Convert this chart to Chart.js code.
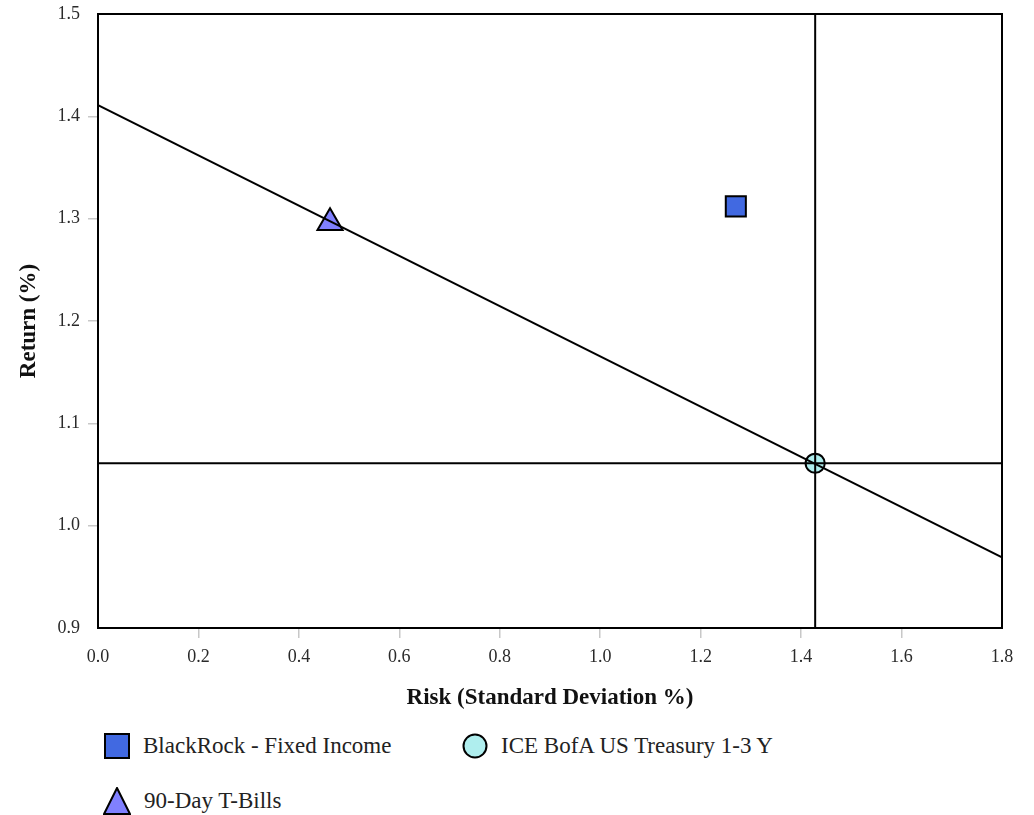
<!DOCTYPE html>
<html>
<head>
<meta charset="utf-8">
<title>Risk / Return</title>
<script src="https://cdn.jsdelivr.net/npm/chart.js@4.4.0/dist/chart.umd.min.js"></script>
<style>
  body { margin: 0; background: #fff; }
  #wrap { position: relative; width: 1034px; height: 815px; font-family: "Liberation Serif", "Times New Roman", serif; }
  #chart { position: absolute; left: 0; top: 0; }
  .item { position: absolute; height: 28px; display: flex; align-items: center; font-size: 23px; color: #222; white-space: nowrap; }
  .item svg { margin-right: 13px; }
</style>
</head>
<body>
<div id="wrap">
  <canvas id="chart" width="1034" height="713"></canvas>
  <div id="legend"></div>
</div>
<script>
// series (risk = std dev %, return %)
const seriesNames = ['BlackRock - Fixed Income', 'ICE BofA US Treasury 1-3 Y', '90-Day T-Bills'];
const riskValues = [1.270, 1.428, 0.462];
const returnValues = [1.312, 1.061, 1.296];

// capital market line end points
const cmlRisk = [0.0, 1.8];
const cmlReturn = [1.411, 0.969];

// axis ranges
const xRange = [0.0, 1.8];
const xStep = 0.2;
const yRange = [0.9, 1.5];
const yStep = 0.1;

const pointStyles = ['rect', 'circle', 'triangle'];
const pointColors = ['#4169e1', '#afeeee', '#8080ff'];
const pointSizes = [14.2, 9.6, 14.5];

const benchIdx = 1; // crosshair drawn at the benchmark

const FONT = '"Liberation Serif", "Times New Roman", serif';

// hide the tick marks at both ends of an axis
function tickColor(ctx) {
  const n = ctx.scale.ticks.length;
  return (ctx.index === 0 || ctx.index === n - 1) ? 'rgba(0,0,0,0)' : '#c8c8c8';
}

// full black frame round the plot area
const frame = {
  id: 'frame',
  afterDatasetsDraw(chart) {
    const { ctx, chartArea: a } = chart;
    ctx.save();
    ctx.strokeStyle = '#000';
    ctx.lineWidth = 2;
    ctx.strokeRect(a.left, a.top, a.right - a.left, a.bottom - a.top);
    ctx.restore();
  }
};

const lineStyle = { type: 'line', borderColor: '#000', borderWidth: 2, pointRadius: 0, fill: false, tension: 0, order: 0 };

const datasets = seriesNames.map((name, i) => ({
  type: 'scatter',
  label: name,
  data: [{ x: riskValues[i], y: returnValues[i] }],
  pointStyle: pointStyles[i],
  pointRadius: pointSizes[i],
  pointHoverRadius: pointSizes[i],
  backgroundColor: pointColors[i],
  borderColor: '#000',
  borderWidth: 2,
  order: 1
}));

datasets.push(Object.assign({ label: 'cml', data: cmlRisk.map((x, i) => ({ x, y: cmlReturn[i] })) }, lineStyle));
datasets.push(Object.assign({ label: 'vline', data: yRange.map(y => ({ x: riskValues[benchIdx], y })) }, lineStyle));
datasets.push(Object.assign({ label: 'hline', data: xRange.map(x => ({ x, y: returnValues[benchIdx] })) }, lineStyle));

new Chart(document.getElementById('chart'), {
  type: 'scatter',
  data: { datasets },
  options: {
    responsive: false,
    animation: false,
    devicePixelRatio: 1,
    layout: { autoPadding: false, padding: { left: 15, right: 32, top: 14, bottom: 0 } },
    plugins: { legend: { display: false }, tooltip: { enabled: false } },
    scales: {
      x: {
        type: 'linear',
        min: xRange[0],
        max: xRange[1],
        afterFit: s => { s.height = 85; },
        ticks: { stepSize: xStep, padding: 8, color: '#2a2a2a', font: { family: FONT, size: 18 }, callback: v => v.toFixed(1) },
        grid: { drawOnChartArea: false, tickLength: 10, color: tickColor, lineWidth: 1.5 },
        border: { display: false },
        title: { display: true, text: 'Risk (Standard Deviation %)', color: '#111', padding: { top: 2, bottom: 1 }, font: { family: FONT, size: 23, weight: 'bold' } }
      },
      y: {
        type: 'linear',
        min: yRange[0],
        max: yRange[1],
        // fixed width, and let the top label overhang into the 14px margin
        afterFit: s => { s.width = 83; s.paddingTop = 0; s.paddingBottom = 0; },
        ticks: { stepSize: yStep, padding: 8, color: '#2a2a2a', font: { family: FONT, size: 18 }, callback: v => v.toFixed(1) },
        grid: { drawOnChartArea: false, tickLength: 10, color: tickColor, lineWidth: 1.5 },
        border: { display: false },
        title: { display: true, text: 'Return (%)', color: '#111', padding: { top: 0, bottom: 0 }, font: { family: FONT, size: 23, weight: 'bold' } }
      }
    }
  },
  plugins: [frame]
});

// legend, two columns
const legendPos = [[104, 732], [462, 732], [103, 787]];
const markerSvg = [
  c => `<svg width="26" height="28"><rect x="1" y="2" width="24" height="24" fill="${c}" stroke="#000" stroke-width="2"/></svg>`,
  c => `<svg width="26" height="28"><circle cx="13" cy="14" r="11.5" fill="${c}" stroke="#000" stroke-width="2"/></svg>`,
  c => `<svg width="28" height="28"><polygon points="14,1 27,27 1,27" fill="${c}" stroke="#000" stroke-width="2"/></svg>`
];
const legend = document.getElementById('legend');
seriesNames.forEach((name, i) => {
  const el = document.createElement('div');
  el.className = 'item';
  el.style.left = legendPos[i][0] + 'px';
  el.style.top = legendPos[i][1] + 'px';
  el.innerHTML = markerSvg[i](pointColors[i]) + '<span>' + name + '</span>';
  legend.appendChild(el);
});
</script>
</body>
</html>
